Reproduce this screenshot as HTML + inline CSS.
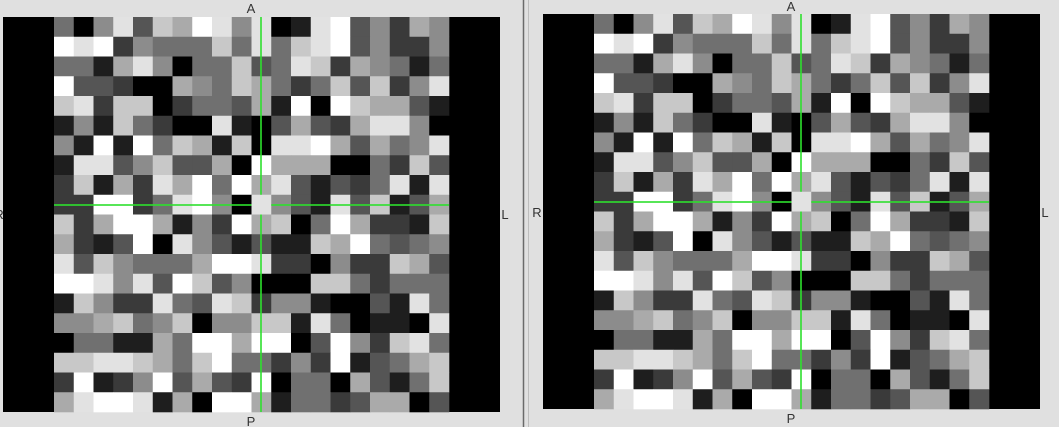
<!DOCTYPE html>
<html><head><meta charset="utf-8"><style>
html,body{margin:0;padding:0;background:#e0e0e0;}
svg{display:block;font-family:"Liberation Sans",sans-serif;}
</style></head><body>
<svg id="s" width="1059" height="427" viewBox="0 0 1059 427">
<rect x="0" y="0" width="1059" height="427" fill="#e0e0e0"/>
<line x1="523.5" y1="0" x2="523.5" y2="427" stroke="#6a6a6a" stroke-width="1.5"/>
<line x1="528.5" y1="0" x2="528.5" y2="427" stroke="#bdbdbd" stroke-width="1"/>
</svg>
<script>
const levels = ["#000000","#1e1e1e","#3a3a3a","#555555","#707070","#8c8c8c","#aaaaaa","#c8c8c8","#e2e2e2","#ffffff"];
const pixelRows = [
"4058376985","8018935265",
"9892544474","8478935225",
"4416850447","3487265414",
"9332006547","6424737258",
"7827702443","6190976631",
"1517420081","0363268850",
"5191947617","0889636458",
"1883573360","9666004273",
"2716286949","6831324818",
"2299248950","8531837136",
"7269961529","6704962217",
"6213908531","3117694345",
"8375444699","8220522763",
"9985839735","0007742444",
"1752284387","2551003184",
"5567457055","7718401108",
"0441164996","9903952784",
"7788764794","4252913467",
"2912593632","9044063147",
"6899816099","6144236603"
];
const NS="http://www.w3.org/2000/svg";
const svg=document.getElementById('s');
function panel(name,x0,x1,y0,y1,gx0,lab){
  const g=document.createElementNS(NS,'g');
  
  
  svg.appendChild(g);
  const bg=document.createElementNS(NS,'rect');
  bg.setAttribute('x',x0);bg.setAttribute('y',y0);bg.setAttribute('width',x1-x0);bg.setAttribute('height',y1-y0);bg.setAttribute('fill','#000');
  g.appendChild(bg);
  const nr=pixelRows.length/2, cs=(y1-y0)/nr;
  for(let r=0;r<nr;r++){
    const str=pixelRows[2*r]+pixelRows[2*r+1];
    for(let c=0;c<str.length;c++){
      const rc=document.createElementNS(NS,'rect');
      rc.setAttribute('x',(gx0+c*cs).toFixed(2));
      rc.setAttribute('y',(y0+r*cs).toFixed(2));
      rc.setAttribute('width',(cs+0.3).toFixed(2));
      rc.setAttribute('height',(cs+0.3).toFixed(2));
      rc.setAttribute('fill',levels[+str[c]]);
      
      
      g.appendChild(rc);
    }
  }
  const cx=Math.round(gx0+10.5*cs), cy=Math.round(y0+9.5*cs);
  const gl=gx0, gr=gx0+20*cs;
  // [x, y, w, h] segments of the crosshair, gap around the centre voxel
  const segs=[[gl,cy-0.8,10*cs,1.6],[gx0+11*cs,cy-0.8,9*cs,1.6],[cx-0.8,y0,1.6,9*cs],[cx-0.8,y0+10*cs,1.6,y1-(y0+10*cs)]];
  segs.forEach(s=>{
    const l=document.createElementNS(NS,'rect');
    l.setAttribute('x',s[0]);l.setAttribute('y',s[1]);l.setAttribute('width',s[2]);l.setAttribute('height',s[3]);
    l.setAttribute('fill','#2ee02e');
    
    
    g.appendChild(l);
  });
  lab.forEach(t=>{
    const tx=document.createElementNS(NS,'text');
    tx.setAttribute('x',t[1]);tx.setAttribute('y',t[2]);tx.setAttribute('font-size','13');tx.setAttribute('fill','#333');tx.setAttribute('text-anchor','middle');
    tx.textContent=t[0];
    
    
    g.appendChild(tx);
  });
}
panel('left-view',3,500,17,412,54,[["A",251,13],["P",251,426],["L",505,219],["R",-1,219]]);
panel('right-view',543,1040,14,409,594,[["A",791,11],["P",791,423],["R",537,217],["L",1045,217]]);
</script>
</body></html>
